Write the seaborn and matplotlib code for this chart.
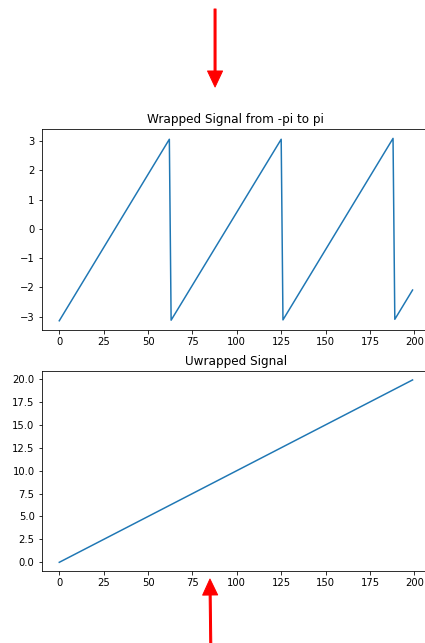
import matplotlib
matplotlib.use("Agg")
import matplotlib.pyplot as plt
import seaborn as sns

# vertices of the wrapped signal (sample index, value)
wrapped_idx = [0, 62, 63, 125, 126, 188, 189, 199]
wrapped_val = [-3.14, 3.06, -3.12, 3.06, -3.11, 3.09, -3.09, -2.09]

# unwrapped signal is a straight ramp
unwrapped_idx = [0, 199]
unwrapped_val = [0.0, 19.9]

titles = ["Wrapped Signal from -pi to pi", "Uwrapped Signal"]

fig = plt.figure(figsize=(425 / 72, 643 / 72), dpi=72)
ax1 = fig.add_axes([0.0979, 0.4868, 0.9144, 0.3121])
ax2 = fig.add_axes([0.0979, 0.1113, 0.9144, 0.3120])

sns.lineplot(x=wrapped_idx, y=wrapped_val, ax=ax1, color="#1f77b4", linewidth=1.5)
sns.lineplot(x=unwrapped_idx, y=unwrapped_val, ax=ax2, color="#1f77b4", linewidth=1.5)

ax1.set_title(titles[0])
ax2.set_title(titles[1])

# margins matching the original 200-sample plot
ax1.set_xlim(-9.95, 208.95)
ax2.set_xlim(-9.95, 208.95)
ax1.set_ylim(-3.455, 3.40)
ax2.set_ylim(-0.995, 20.895)
ax1.set_yticks([-3, -2, -1, 0, 1, 2, 3])

# red arrows
arrow = dict(color="red", width=2, headwidth=15, headlength=16, shrink=0)
fig.patches  # keep figure-level annotations
ax1.annotate("", xy=(0.506, 0.8647), xycoords="figure fraction",
             xytext=(0.506, 0.986), textcoords="figure fraction",
             arrowprops=arrow, annotation_clip=False)
ax2.annotate("", xy=(0.494, 0.0995), xycoords="figure fraction",
             xytext=(0.4965, -0.03), textcoords="figure fraction",
             arrowprops=arrow, annotation_clip=False)

fig.savefig("out.png", dpi=72)
